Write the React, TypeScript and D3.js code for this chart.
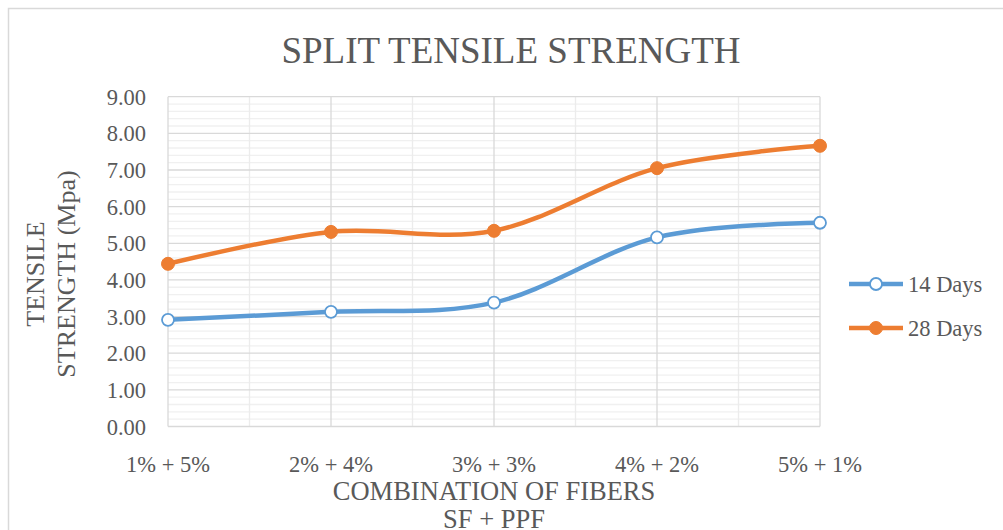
import React from "react";
import * as d3 from "d3";

const categories = ["1% + 5%", "2% + 4%", "3% + 3%", "4% + 2%", "5% + 1%"];
const days14 = [2.91, 3.13, 3.38, 5.16, 5.56];
const days28 = [4.44, 5.31, 5.34, 7.05, 7.66];
const yTicks = [0, 1, 2, 3, 4, 5, 6, 7, 8, 9];

const W = 1003;
const H = 530;
const FONT = "'Liberation Serif', 'Times New Roman', serif";
const TXT = "#595959";
const BLUE = "#5B9BD5";
const ORANGE = "#ED7D31";

export default function App() {
  const x = d3.scalePoint<string>().domain(categories).range([168, 820]);
  const y = d3.scaleLinear().domain([0, 9]).range([426.5, 96.7]);
  const minorY = d3.range(0, 9.001, 0.2).filter((v) => Math.abs(v - Math.round(v)) > 1e-6);
  const step = x.step();
  const minorX = categories.slice(0, -1).map((c) => (x(c) as number) + step / 2);

  const line = d3
    .line<number>()
    .x((_, i) => x(categories[i]) as number)
    .y((d) => y(d))
    .curve(d3.curveCardinal.tension(0));

  const series = [
    { name: "14 Days", values: days14, color: BLUE, open: true },
    { name: "28 Days", values: days28, color: ORANGE, open: false },
  ];

  return (
    <svg width={W} height={H} style={{ position: "absolute", left: 0, top: 0 }} fontFamily={FONT}>
      <rect x={0} y={0} width={W} height={H} fill="#fff" />
      <rect x={8.5} y={8.5} width={W + 20} height={H + 20} fill="#fff" stroke="#d9d9d9" strokeWidth={1.5} />
      <text x={511} y={63} textAnchor="middle" fontSize={37} fill={TXT}>
        SPLIT TENSILE STRENGTH
      </text>

      {minorY.map((v) => (
        <line key={"my" + v} x1={168} x2={820} y1={y(v)} y2={y(v)} stroke="#f0f0f0" strokeWidth={1.3} />
      ))}
      {minorX.map((v, i) => (
        <line key={"mx" + i} x1={v} x2={v} y1={y(9)} y2={y(0)} stroke="#ececec" strokeWidth={1.3} />
      ))}
      {yTicks.map((v) => (
        <line key={"gy" + v} x1={168} x2={820} y1={y(v)} y2={y(v)} stroke="#d9d9d9" strokeWidth={1.3} />
      ))}
      {categories.map((c) => (
        <line key={"gx" + c} x1={x(c)} x2={x(c)} y1={y(9)} y2={y(0)} stroke="#d9d9d9" strokeWidth={1.3} />
      ))}

      {yTicks.map((v) => (
        <text key={"yl" + v} x={146} y={y(v) + 8} textAnchor="end" fontSize={22.5} fill={TXT}>
          {v.toFixed(2)}
        </text>
      ))}
      {categories.map((c) => (
        <text key={"xl" + c} x={x(c)} y={472} textAnchor="middle" fontSize={22.5} fill={TXT}>
          {c}
        </text>
      ))}

      <text x={494} y={500} textAnchor="middle" fontSize={26.5} fill={TXT}>
        COMBINATION OF FIBERS
      </text>
      <text x={494} y={528} textAnchor="middle" fontSize={26.5} fill={TXT}>
        SF + PPF
      </text>
      <text transform="translate(44,274) rotate(-90)" textAnchor="middle" fontSize={26} fill={TXT}>
        TENSILE
      </text>
      <text transform="translate(75,274) rotate(-90)" textAnchor="middle" fontSize={26} fill={TXT}>
        STRENGTH (Mpa)
      </text>

      {series.map((s) => (
        <g key={s.name}>
          <path d={line(s.values) || ""} fill="none" stroke={s.color} strokeWidth={4.5} strokeLinecap="round" />
          {s.values.map((v, i) => (
            <circle
              key={i}
              cx={x(categories[i])}
              cy={y(v)}
              r={s.open ? 6 : 6.5}
              fill={s.open ? "#fff" : s.color}
              stroke={s.color}
              strokeWidth={s.open ? 1.8 : 1}
            />
          ))}
        </g>
      ))}

      {series.map((s, i) => {
        const ly = 284 + i * 44;
        return (
          <g key={"lg" + s.name}>
            <line x1={849} x2={903} y1={ly} y2={ly} stroke={s.color} strokeWidth={4.5} />
            <circle cx={876} cy={ly} r={s.open ? 6 : 6.5} fill={s.open ? "#fff" : s.color} stroke={s.color} strokeWidth={s.open ? 1.8 : 1} />
            <text x={908} y={ly + 8} fontSize={22.5} fill={TXT}>
              {s.name}
            </text>
          </g>
        );
      })}
    </svg>
  );
}
